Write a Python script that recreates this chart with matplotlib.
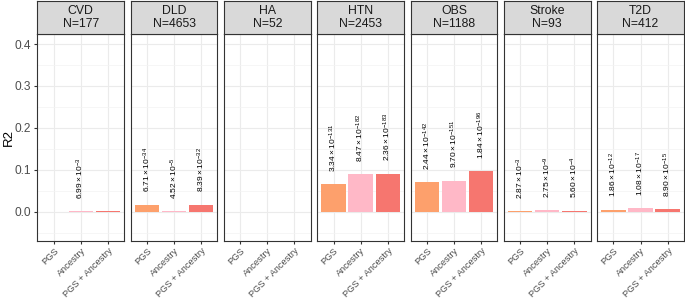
import matplotlib
matplotlib.use("Agg")
import matplotlib.pyplot as plt
import numpy as np

plt.rcParams['font.family'] = ['Liberation Sans', 'DejaVu Sans']
plt.rcParams['mathtext.fontset'] = 'custom'
plt.rcParams['mathtext.rm'] = 'Liberation Sans'
plt.rcParams['mathtext.it'] = 'Liberation Sans'
plt.rcParams['mathtext.default'] = 'regular'

diseases = ["CVD", "DLD", "HA", "HTN", "OBS", "Stroke", "T2D"]
sizes = [177, 4653, 52, 2453, 1188, 93, 412]
models = ["PGS", "Ancestry", "PGS + Ancestry"]
colors = ["#FDA06C", "#FFB8C7", "#F6766F"]

# R2 values per disease: [PGS, Ancestry, PGS + Ancestry]; nan = not shown
r2 = {
    "CVD":    [np.nan, 0.001, 0.001],
    "DLD":    [0.016, 0.001, 0.016],
    "HA":     [np.nan, np.nan, np.nan],
    "HTN":    [0.065, 0.089, 0.090],
    "OBS":    [0.070, 0.074, 0.096],
    "Stroke": [0.001, 0.003, 0.002],
    "T2D":    [0.005, 0.008, 0.006],
}
# p-value labels (mantissa, exponent)
pvals = {
    "CVD":    [None, ("6.99", "-3"), None],
    "DLD":    [("6.71", "-34"), ("4.52", "-5"), ("8.39", "-32")],
    "HA":     [None, None, None],
    "HTN":    [("3.34", "-131"), ("8.47", "-182"), ("2.36", "-183")],
    "OBS":    [("2.44", "-142"), ("9.70", "-151"), ("1.84", "-196")],
    "Stroke": [("2.87", "-3"), ("2.75", "-9"), ("5.60", "-4")],
    "T2D":    [("1.86", "-12"), ("1.08", "-17"), ("8.90", "-15")],
}

W, H = 685, 301
fig = plt.figure(figsize=(W / 100, H / 100), dpi=100)

left0 = 37.4
pw = 86.7
pitch = 93.3
ptop = 34.0
pbot = 240.5
stop = 1.0
ylim = (-0.069, 0.424)

border = "#333333"
for i, d in enumerate(diseases):
    x0 = left0 + i * pitch
    ax = fig.add_axes([x0 / W, 1 - pbot / H, pw / W, (pbot - ptop) / H])
    ax.set_facecolor("white")
    ax.set_xlim(-0.6, 2.6)
    ax.set_ylim(*ylim)
    ax.set_yticks([0.0, 0.1, 0.2, 0.3, 0.4])
    ax.set_yticks([-0.05, 0.05, 0.15, 0.25, 0.35], minor=True)
    ax.set_xticks(range(3))
    ax.grid(True, which="major", color="#EBEBEB", lw=0.8)
    ax.grid(True, which="minor", axis="y", color="#F3F3F3", lw=0.5)
    ax.set_axisbelow(True)
    for s in ax.spines.values():
        s.set_color(border)
        s.set_linewidth(0.8)
    vals = r2[d]
    for j in range(3):
        v = vals[j]
        if not np.isnan(v):
            ax.bar(j, v, width=0.9, color=colors[j], zorder=2)
        p = pvals[d][j]
        if p is not None:
            vv = 0 if np.isnan(v) else v
            ax.text(j, vv + 0.03, r"$%s\times10^{%s}$" % (p[0], p[1].replace("-", "\u2212")),
                    rotation=90, ha="center", va="bottom", fontsize=6.0, color="black", zorder=3)
    ax.set_xticklabels(models, rotation=45, ha="right", va="top", rotation_mode="anchor",
                       fontsize=6.7, color="#4D4D4D")
    ax.tick_params(axis="x", length=2.5, color=border, pad=1.5)
    ax.tick_params(axis="y", which="minor", length=0)
    if i == 0:
        ax.set_yticklabels(["0.0", "0.1", "0.2", "0.3", "0.4"], fontsize=8.6, color="#4D4D4D")
        ax.tick_params(axis="y", which="major", length=2.5, color=border, pad=2)
        ax.set_ylabel("R2", fontsize=9.5)
        ax.yaxis.set_label_coords((14.5 - x0) / pw, 0.5)
    else:
        ax.tick_params(axis="y", which="major", length=0, labelleft=False)

    sax = fig.add_axes([x0 / W, 1 - ptop / H, pw / W, (ptop - stop) / H])
    sax.set_facecolor("#D9D9D9")
    sax.set_xticks([])
    sax.set_yticks([])
    for s in sax.spines.values():
        s.set_color(border)
        s.set_linewidth(0.8)
    sax.text(0.5, 0.5, "%s\nN=%d" % (d, sizes[i]), ha="center", va="center",
             fontsize=8.8, color="#1A1A1A", transform=sax.transAxes, linespacing=1.05)

fig.savefig("out.png", dpi=100)
